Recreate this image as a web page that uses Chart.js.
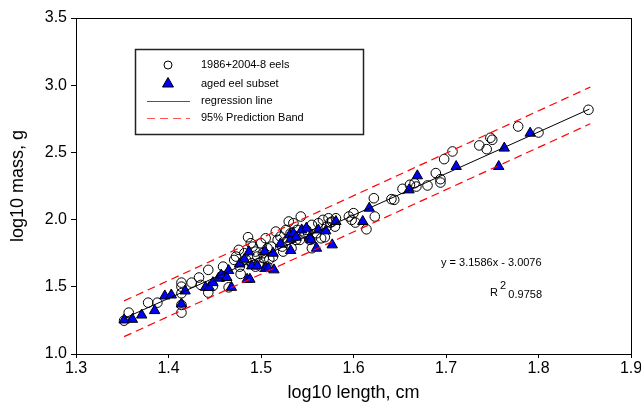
<!DOCTYPE html>
<html>
<head>
<meta charset="utf-8">
<script src="https://cdn.jsdelivr.net/npm/chart.js"></script>
<style>
  html, body { margin: 0; padding: 0; background: #fff; }
  #wrap { width: 641px; height: 408px; position: relative; }
</style>
</head>
<body>
<div id="wrap"><canvas id="chart-eels"></canvas></div>
<script>
// log10 length vs log10 mass
const allEelsX = [1.352, 1.357, 1.378, 1.388, 1.414, 1.414, 1.414, 1.414, 1.414, 1.425, 1.433, 1.435, 1.443, 1.443, 1.448,
  1.459, 1.459, 1.465, 1.471, 1.473, 1.476, 1.477, 1.478, 1.486, 1.489, 1.491, 1.494, 1.496, 1.498, 1.500, 1.502, 1.505,
  1.507, 1.509, 1.507, 1.511, 1.516, 1.518, 1.524, 1.527, 1.530, 1.532, 1.535, 1.538, 1.543, 1.547, 1.549, 1.555, 1.555,
  1.562, 1.567, 1.569, 1.573, 1.575, 1.580, 1.581, 1.595, 1.598, 1.600, 1.602, 1.614, 1.622, 1.623, 1.641, 1.644, 1.653,
  1.661, 1.666, 1.668, 1.680, 1.689, 1.694, 1.694, 1.698, 1.707, 1.736, 1.744, 1.748, 1.750, 1.778, 1.800, 1.854,
  1.482, 1.484, 1.490, 1.494, 1.500, 1.503, 1.513, 1.521, 1.523, 1.529, 1.533, 1.539, 1.542, 1.551, 1.553, 1.560, 1.565,
  1.571, 1.577];
const allEelsY = [1.248, 1.308, 1.382, 1.382, 1.531, 1.501, 1.452, 1.308, 1.365, 1.531, 1.569, 1.514, 1.626, 1.457, 1.506,
  1.650, 1.576, 1.496, 1.700, 1.725, 1.775, 1.650, 1.596, 1.869, 1.824, 1.799, 1.762, 1.725, 1.675, 1.824, 1.750, 1.861,
  1.787, 1.705, 1.650, 1.799, 1.911, 1.849, 1.762, 1.923, 1.986, 1.898, 1.973, 1.849, 2.023, 1.898, 1.923, 1.961, 1.787,
  1.973, 1.998, 1.869, 2.010, 1.978, 1.948, 2.010, 2.023, 1.998, 2.048, 1.978, 1.928, 2.159, 2.023, 2.152, 2.147, 2.229,
  2.259, 2.271, 2.246, 2.254, 2.346, 2.301, 2.276, 2.450, 2.507, 2.552, 2.524, 2.609, 2.594, 2.693, 2.648, 2.817,
  1.750, 1.700, 1.675, 1.650, 1.650, 1.712, 1.725, 1.874, 1.799, 1.849, 1.787, 1.923, 1.849, 1.898, 1.849, 1.898, 1.861,
  1.948, 1.985];

const agedX = [1.352, 1.361, 1.371, 1.385, 1.396, 1.403, 1.414, 1.418, 1.440, 1.444, 1.448, 1.454, 1.457, 1.463, 1.465,
  1.468, 1.477, 1.482, 1.485, 1.488, 1.487, 1.490, 1.496, 1.504, 1.505, 1.508, 1.513, 1.514, 1.521, 1.531, 1.532, 1.532,
  1.535, 1.538, 1.544, 1.549, 1.553, 1.554, 1.560, 1.562, 1.570, 1.577, 1.581, 1.610, 1.617, 1.660, 1.669, 1.711, 1.757,
  1.763, 1.791];
const agedY = [1.253, 1.258, 1.290, 1.323, 1.432, 1.439, 1.372, 1.469, 1.496, 1.496, 1.531, 1.564, 1.588, 1.569, 1.621,
  1.496, 1.670, 1.705, 1.556, 1.556, 1.760, 1.655, 1.655, 1.762, 1.638, 1.638, 1.750, 1.626, 1.819, 1.886, 1.770, 1.854,
  1.898, 1.869, 1.923, 1.936, 1.869, 1.849, 1.787, 1.923, 1.916, 1.812, 1.986, 1.986, 2.085, 2.221, 2.326, 2.395, 2.395,
  2.532, 2.643];

const regX = [1.352, 1.855];
const regY = [1.265, 2.822];
const bandX = [1.352, 1.856];
const bandUpperY = [1.395, 2.986];
const bandLowerY = [1.129, 2.713];

const xTicks = [1.3, 1.4, 1.5, 1.6, 1.7, 1.8, 1.9];
const yTicks = [1.0, 1.5, 2.0, 2.5, 3.0, 3.5];

const legendLabels = ['1986+2004-8 eels', 'aged eel subset', 'regression line', '95% Prediction Band'];
const equationText = 'y = 3.1586x - 3.0076';
const rSquared = '0.9758';

const FONT = '"Liberation Sans", Arial, sans-serif';
const toPoints = (xs, ys) => xs.map((x, i) => ({ x: x, y: ys[i] }));

// frame, legend box and equation text
const extrasPlugin = {
  id: 'extras',
  afterDraw(chart) {
    const ctx = chart.ctx;
    const a = chart.chartArea;
    ctx.save();
    ctx.strokeStyle = '#000';
    ctx.lineWidth = 1;
    ctx.strokeRect(Math.round(a.left) + 0.5, Math.round(a.top) + 0.5,
      Math.round(a.right - a.left), Math.round(a.bottom - a.top));

    // legend
    ctx.fillStyle = '#fff';
    ctx.fillRect(136, 50, 227, 84);
    ctx.lineWidth = 1.5;
    ctx.strokeStyle = '#222';
    ctx.strokeRect(135.5, 49.5, 228, 85);

    ctx.lineWidth = 1;
    ctx.strokeStyle = '#000';
    ctx.beginPath();
    ctx.arc(168, 65, 4, 0, Math.PI * 2);
    ctx.stroke();

    ctx.beginPath();
    ctx.moveTo(168, 77.5);
    ctx.lineTo(173.5, 87);
    ctx.lineTo(162.5, 87);
    ctx.closePath();
    ctx.fillStyle = '#0000ff';
    ctx.fill();
    ctx.stroke();

    ctx.strokeStyle = '#555';
    ctx.beginPath();
    ctx.moveTo(147, 101.5);
    ctx.lineTo(190, 101.5);
    ctx.stroke();

    ctx.strokeStyle = '#ff5555';
    ctx.setLineDash([8, 5]);
    ctx.beginPath();
    ctx.moveTo(147, 118.5);
    ctx.lineTo(190, 118.5);
    ctx.stroke();
    ctx.setLineDash([]);

    ctx.fillStyle = '#000';
    ctx.font = '11px ' + FONT;
    ctx.textBaseline = 'middle';
    ctx.textAlign = 'left';
    const rowsY = [65, 84, 101, 118];
    legendLabels.forEach((t, i) => ctx.fillText(t, 201, rowsY[i]));

    // equation
    ctx.fillText(equationText, 441, 263);
    ctx.fillText('R', 490, 293);
    ctx.fillText('2', 500, 286);
    ctx.textAlign = 'right';
    ctx.fillText(rSquared, 542, 295);
    ctx.restore();
  }
};

const tickFont = { family: FONT, size: 16 };
const titleFont = { family: FONT, size: 18 };

new Chart(document.getElementById('chart-eels'), {
  type: 'scatter',
  data: {
    datasets: [
      {
        label: 'regression line',
        type: 'line',
        data: toPoints(regX, regY),
        borderColor: '#000',
        borderWidth: 1,
        pointRadius: 0,
        fill: false,
        order: 0
      },
      {
        label: '95% Prediction Band',
        type: 'line',
        data: toPoints(bandX, bandUpperY),
        borderColor: '#ff0000',
        borderWidth: 1.2,
        borderDash: [8, 5],
        pointRadius: 0,
        fill: false,
        order: 0
      },
      {
        label: '95% Prediction Band (lower)',
        type: 'line',
        data: toPoints(bandX, bandLowerY),
        borderColor: '#ff0000',
        borderWidth: 1.2,
        borderDash: [8, 5],
        pointRadius: 0,
        fill: false,
        order: 0
      },
      {
        label: 'aged eel subset',
        data: toPoints(agedX, agedY),
        pointStyle: 'triangle',
        pointRadius: 6,
        backgroundColor: '#0000ff',
        borderColor: '#000',
        borderWidth: 1,
        order: 1
      },
      {
        label: '1986+2004-8 eels',
        data: toPoints(allEelsX, allEelsY),
        pointStyle: 'circle',
        pointRadius: 4.8,
        backgroundColor: 'rgba(0,0,0,0)',
        borderColor: '#000',
        borderWidth: 1,
        order: 2
      }
    ]
  },
  options: {
    responsive: true,
    maintainAspectRatio: false,
    animation: false,
    layout: { padding: { top: 18, right: 10, left: 0, bottom: 0 } },
    plugins: {
      legend: { display: false },
      tooltip: { enabled: false }
    },
    scales: {
      x: {
        type: 'linear',
        min: 1.3,
        max: 1.9,
        afterBuildTicks: s => { s.ticks = xTicks.map(v => ({ value: v })); },
        afterFit: s => { s.height = 54; s.paddingRight = 0; s.paddingLeft = 0; },
        ticks: { font: tickFont, color: '#000', padding: 1, maxRotation: 0, autoSkip: false,
          callback: v => Number(v).toFixed(1) },
        grid: { drawOnChartArea: false, drawTicks: true, tickLength: 4, color: '#000' },
        border: { display: true, color: '#000', width: 1 },
        title: { display: true, text: 'log10 length, cm', font: titleFont, color: '#000',
          padding: { top: 0, bottom: 4 } }
      },
      y: {
        type: 'linear',
        min: 1.0,
        max: 3.5,
        afterBuildTicks: s => { s.ticks = yTicks.map(v => ({ value: v })); },
        afterFit: s => { s.width = 76; s.paddingTop = 0; s.paddingBottom = 0; },
        ticks: { font: tickFont, color: '#000', padding: 4, autoSkip: false,
          callback: v => Number(v).toFixed(1) },
        grid: { drawOnChartArea: false, drawTicks: true, tickLength: 5, color: '#000' },
        border: { display: true, color: '#000', width: 1 },
        title: { display: true, text: 'log10 mass, g', font: titleFont, color: '#000',
          padding: { top: 7, bottom: 0 } }
      }
    }
  },
  plugins: [extrasPlugin]
});
</script>
</body>
</html>
